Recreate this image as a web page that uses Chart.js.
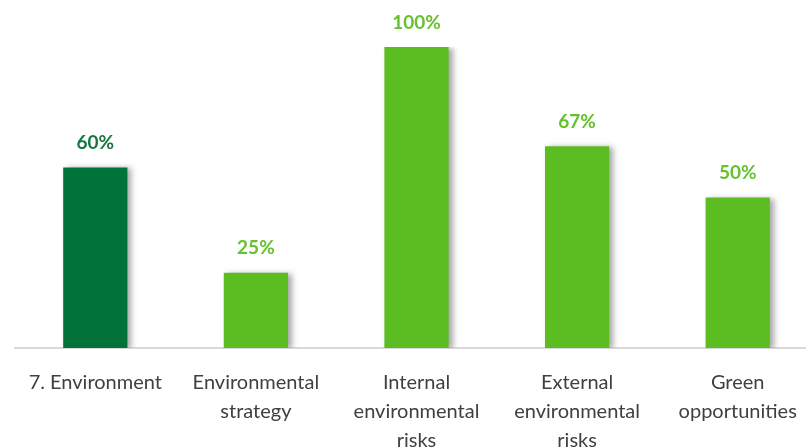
<!DOCTYPE html>
<html>
<head>
<meta charset="utf-8">
<script src="https://cdn.jsdelivr.net/npm/chart.js@4"></script>
<style>
  html, body { margin: 0; padding: 0; background: #fff; overflow: hidden; }
  #wrap { width: 818px; height: 448px; }
</style>
</head>
<body>
<div id="wrap"><canvas id="envChart" width="818" height="448"></canvas></div>
<script>
const categories = [
    ['7. Environment'],
    ['Environmental', 'strategy'],
    ['Internal', 'environmental', 'risks'],
    ['External', 'environmental', 'risks'],
    ['Green', 'opportunities']
];
const scores = [60, 25, 100, 67, 50];
const barColors = ['#00733a', '#5cbd23', '#5cbd23', '#5cbd23', '#5cbd23'];
const labelColors = ['#16783f', '#66c12f', '#66c12f', '#66c12f', '#66c12f'];

// drop shadow on the bars
const barShadow = {
    id: 'barShadow',
    beforeDatasetDraw(chart) {
        const ctx = chart.ctx;
        ctx.save();
        ctx.shadowColor = 'rgba(0,0,0,0.35)';
        ctx.shadowBlur = 6;
        ctx.shadowOffsetX = 4;
        ctx.shadowOffsetY = 1;
    },
    afterDatasetDraw(chart) {
        chart.ctx.restore();
    }
};

// value labels on top of each bar
const valueLabels = {
    id: 'valueLabels',
    afterDatasetsDraw(chart) {
        const ctx = chart.ctx;
        const meta = chart.getDatasetMeta(0);
        ctx.save();
        ctx.font = 'bold 19px Lato, "Open Sans", sans-serif';
        ctx.textAlign = 'center';
        ctx.textBaseline = 'bottom';
        meta.data.forEach((bar, i) => {
            ctx.fillStyle = labelColors[i];
            ctx.fillText(scores[i] + '%', bar.x, bar.y - 15);
        });
        ctx.restore();
    }
};

new Chart(document.getElementById('envChart'), {
    type: 'bar',
    data: {
        labels: categories,
        datasets: [{
            data: scores,
            backgroundColor: barColors,
            barPercentage: 0.4,
            categoryPercentage: 1.0
        }]
    },
    options: {
        responsive: false,
        animation: false,
        layout: { padding: { top: 47, left: 15, right: 0, bottom: 0 } },
        plugins: {
            legend: { display: false },
            tooltip: { enabled: false }
        },
        scales: {
            x: {
                grid: { display: false },
                border: { color: '#d9d9d9', width: 2 },
                ticks: {
                    color: '#404040',
                    font: { family: 'Lato, "Open Sans", sans-serif', size: 20, lineHeight: '29px' },
                    padding: 12,
                    maxRotation: 0,
                    autoSkip: false
                },
                afterFit(scale) { scale.height = 100; }
            },
            y: {
                display: false,
                min: 0,
                max: 100
            }
        }
    },
    plugins: [barShadow, valueLabels]
});
</script>
</body>
</html>
